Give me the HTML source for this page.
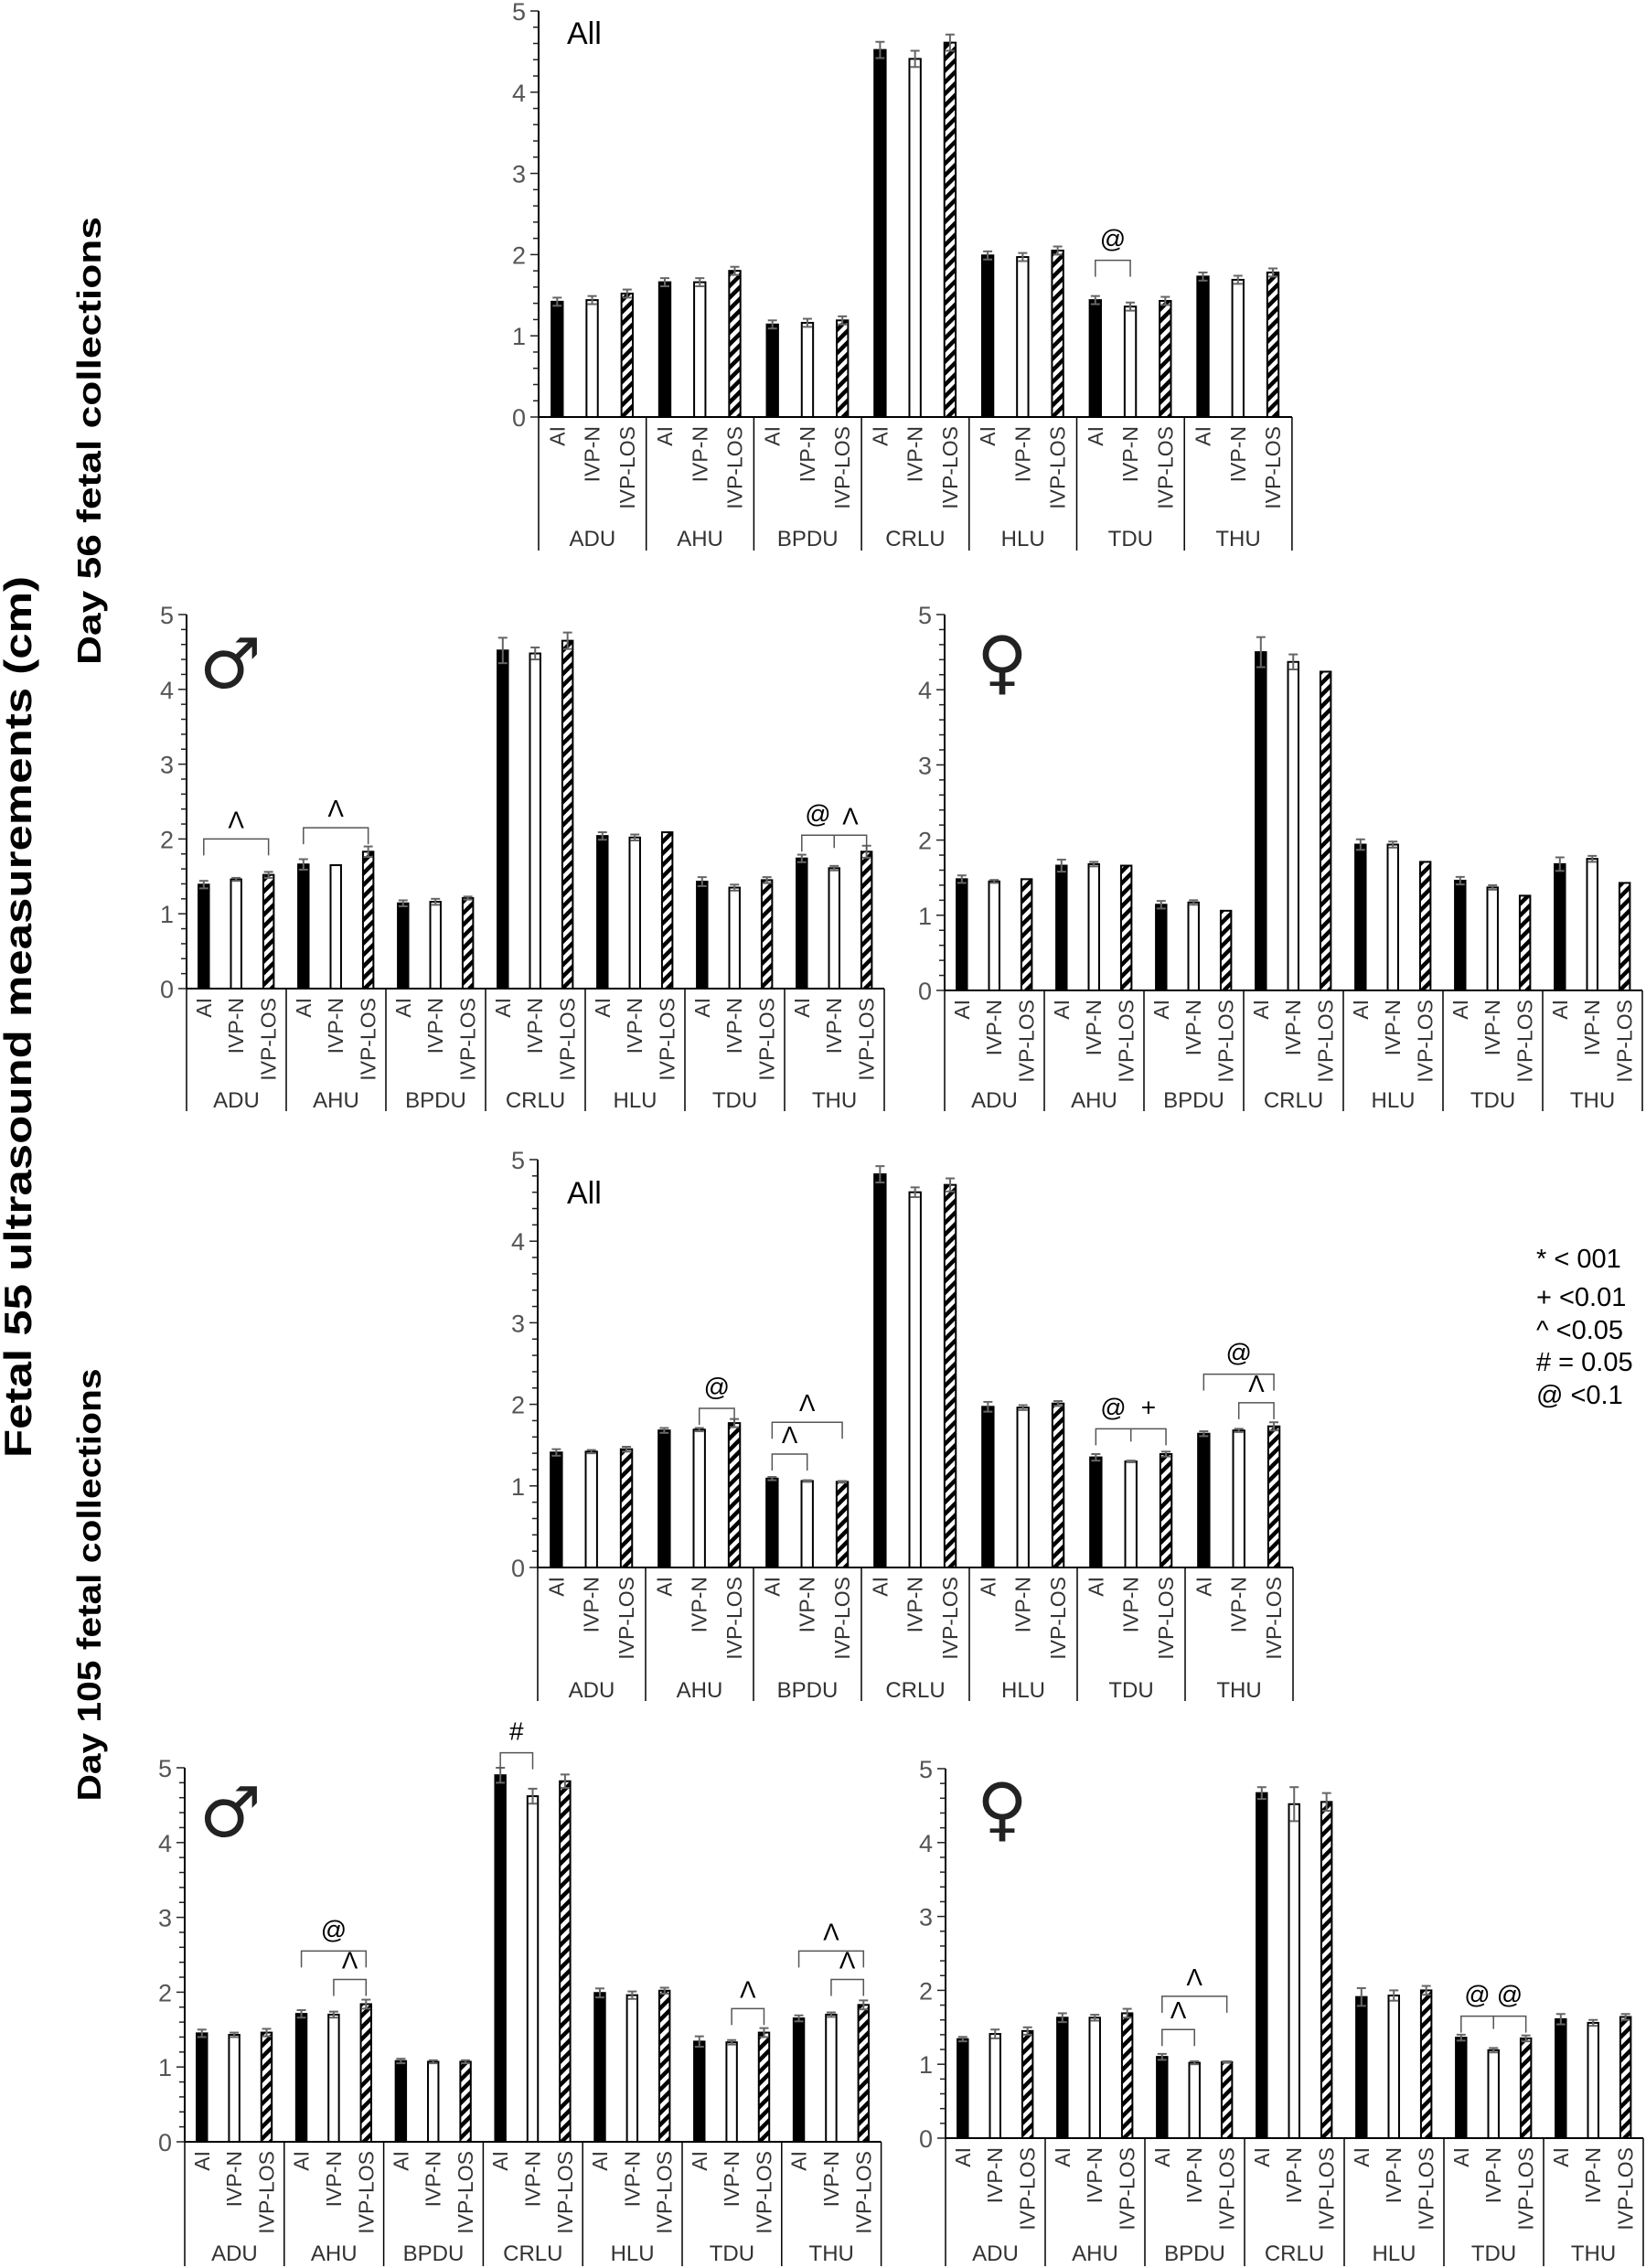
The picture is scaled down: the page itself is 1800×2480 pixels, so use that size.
<!DOCTYPE html>
<html><head><meta charset="utf-8">
<style>
html,body{margin:0;padding:0;background:#fff;}
svg{display:block;}
</style></head>
<body>
<svg id="s" width="1800" height="2480" xmlns="http://www.w3.org/2000/svg" font-family="Liberation Sans, Arial, sans-serif">
<defs>
<pattern id="h" patternUnits="userSpaceOnUse" width="9" height="9" patternTransform="rotate(45)">
<rect width="9" height="9" fill="#fff"/><rect x="0" y="0" width="4.5" height="9" fill="#000"/>
</pattern>
</defs>
<text transform="translate(34,1112) rotate(-90)" text-anchor="middle" font-size="42" font-weight="bold" textLength="964" lengthAdjust="spacingAndGlyphs">Fetal 55 ultrasound measurements (cm)</text>
<text transform="translate(110,482) rotate(-90)" text-anchor="middle" font-size="36" font-weight="bold" textLength="490" lengthAdjust="spacingAndGlyphs">Day 56 fetal collections</text>
<text transform="translate(110,1733) rotate(-90)" text-anchor="middle" font-size="36" font-weight="bold" textLength="473" lengthAdjust="spacingAndGlyphs">Day 105 fetal collections</text>
<g font-size="29" fill="#000">
<text x="1680" y="1386">* &lt; 001</text>
<text x="1680" y="1428">+ &lt;0.01</text>
<text x="1680" y="1464">^ &lt;0.05</text>
<text x="1680" y="1499"># = 0.05</text>
<text x="1680" y="1535">@ &lt;0.1</text>
</g>
<g id="c"></g>
</svg>
<script>
var NS="http://www.w3.org/2000/svg",G=document.getElementById('c');
function el(t,a,txt){var e=document.createElementNS(NS,t);for(var k in a)e.setAttribute(k,a[k]);if(txt!=null)e.textContent=txt;G.appendChild(e);return e;}
var cats=["ADU","AHU","BPDU","CRLU","HLU","TDU","THU"],grp=["AI","IVP-N","IVP-LOS"];
function chart(c){
 var u=(c.y0-c.y5)/5,x0=c.x0,gw=c.gw,y0=c.y0;
 function Y(v){return y0-v*u;}
 el('line',{x1:x0,y1:c.y5,x2:x0,y2:y0,stroke:'#000','stroke-width':2});
 for(var i=0;i<=25;i++){var yy=Y(i*0.2);var L=(i%5==0)?9:6;el('line',{x1:x0-L,y1:yy,x2:x0,y2:yy,stroke:'#222','stroke-width':1.5});}
 for(var i=0;i<=5;i++){el('text',{x:x0-14,y:Y(i)+10,'text-anchor':'end','font-size':27,fill:'#555'},String(i));}
 el('line',{x1:x0,y1:y0,x2:x0+7*gw,y2:y0,stroke:'#000','stroke-width':2});
 for(var g=0;g<=7;g++){el('line',{x1:x0+g*gw,y1:y0,x2:x0+g*gw,y2:c.sb,stroke:'#000','stroke-width':1.5});}
 var fr=[0.12,0.445,0.77],bw=gw*0.105;
 for(var g=0;g<7;g++){
  var gx=x0+g*gw;
  el('text',{x:gx+gw/2,y:c.cy,'text-anchor':'middle','font-size':24,fill:'#333'},cats[g]);
  for(var b=0;b<3;b++){
   var v=c.d[g][b],bx=gx+fr[b]*gw,cx=bx+bw/2;
   el('rect',{x:bx,y:Y(v),width:bw,height:v*u,fill:b==0?'#000':(b==1?'#fff':'url(#h)'),stroke:'#000','stroke-width':2});
   var e=(c.e&&c.e[g]&&c.e[g][b]!=null)?c.e[g][b]:(g==3?0.1:0.05);
   if(e>0){el('line',{x1:cx,y1:Y(v+e),x2:cx,y2:Y(v-e),stroke:'#666','stroke-width':2});
    el('line',{x1:cx-5,y1:Y(v+e),x2:cx+5,y2:Y(v+e),stroke:'#666','stroke-width':2});
    el('line',{x1:cx-5,y1:Y(v-e),x2:cx+5,y2:Y(v-e),stroke:'#666','stroke-width':2});}
   el('text',{transform:'translate('+(cx+8)+','+(y0+10)+') rotate(-90)','text-anchor':'end','font-size':23,fill:'#333'},grp[b]);
  }
 }
 (c.br||[]).forEach(function(r){
  var g=r[0],a=r[1],b2=r[2],v=r[3],yy=Y(v);
  var xa=x0+g*gw+fr[a]*gw+bw/2,xb=x0+g*gw+fr[b2]*gw+bw/2;
  var p='M'+xa+','+(yy+18)+'V'+yy+'H'+xb+'V'+(yy+18);
  if(r[5]!=null){var xm=x0+g*gw+fr[1]*gw+bw/2;p+='M'+xm+','+yy+'V'+(yy+14);}
  el('path',{d:p,fill:'none',stroke:'#555','stroke-width':1.5});
  function lab(x,t){var c2=(t=='^');el('text',{x:x,y:yy-(c2?12:14),'text-anchor':'middle','font-size':c2?26:28},c2?'\u039B':t);}
  if(r[5]!=null){lab((xa+xm)/2,r[4]);lab((xm+xb)/2,r[5]);}
  else lab((xa+xb)/2,r[4]);
 });
 if(c.lab=='All') el('text',{x:c.lx,y:c.ly,'font-size':34},'All');
 else el('text',{x:c.lx,y:c.ly,'text-anchor':'middle','font-size':76,'font-weight':'bold',fill:'#222','font-family':'DejaVu Sans, sans-serif'},c.lab);
}
chart({x0:589,gw:117.7,y0:456,y5:12,sb:602,cy:597,lab:'All',lx:620,ly:48,
 d:[[1.42,1.44,1.52],[1.66,1.66,1.80],[1.14,1.16,1.19],[4.52,4.41,4.61],[1.99,1.97,2.05],[1.44,1.36,1.43],[1.73,1.69,1.78]],
 br:[[5,0,1,1.93,'@']]});
chart({x0:204,gw:109,y0:1081,y5:672,sb:1215,cy:1211,lab:'♂',lx:252,ly:752,
 d:[[1.39,1.46,1.52],[1.66,1.65,1.83],[1.14,1.16,1.21],[4.52,4.48,4.65],[2.04,2.02,2.09],[1.43,1.35,1.45],[1.74,1.61,1.83]],
 e:[[0.05,0.02,0.04],[0.07,0,0.07],[0.04,0.04,0.02],[0.17,0.08,0.11],[0.05,0.04,0],[0.06,0.04,0.04],[0.05,0.03,0.08]],
 br:[[0,0,2,2.0,'^'],[1,0,2,2.15,'^'],[6,0,2,2.05,'@','^']]});
chart({x0:1033,gw:109,y0:1083,y5:672,sb:1215,cy:1211,lab:'♀',lx:1096,ly:750,
 d:[[1.48,1.45,1.48],[1.66,1.68,1.66],[1.14,1.17,1.06],[4.5,4.37,4.24],[1.94,1.94,1.71],[1.46,1.37,1.26],[1.68,1.75,1.43]],
 e:[[0.05,0.02,0],[0.08,0.03,0],[0.05,0.03,0],[0.2,0.1,0],[0.07,0.04,0],[0.05,0.03,0],[0.09,0.04,0]]});
chart({x0:588,gw:118,y0:1714,y5:1268,sb:1860,cy:1856,lab:'All',lx:620,ly:1316,
 d:[[1.41,1.42,1.45],[1.68,1.69,1.77],[1.09,1.06,1.05],[4.82,4.6,4.69],[1.97,1.96,2.01],[1.35,1.30,1.39],[1.64,1.68,1.73]],
 e:[[0.04,0.02,0.03],[0.03,0.02,0.05],[0.02,0.01,0.01],[0.1,0.06,0.08],[0.06,0.03,0.03],[0.04,0.01,0.03],[0.03,0.02,0.05]],
 br:[[1,1,2,1.95,'@'],[2,0,2,1.78,'^'],[2,0,1,1.39,'^'],[5,0,2,1.70,'@','+'],[6,0,2,2.37,'@'],[6,1,2,2.02,'^']]});
chart({x0:202,gw:108.8,y0:2342,y5:1933,sb:2478,cy:2472,lab:'♂',lx:252,ly:2008,
 d:[[1.45,1.43,1.46],[1.71,1.70,1.84],[1.08,1.07,1.07],[4.9,4.62,4.82],[1.99,1.96,2.02],[1.34,1.33,1.46],[1.65,1.70,1.83]],
 e:[[0.05,0.03,0.05],[0.05,0.04,0.06],[0.03,0.02,0.02],[0.1,0.1,0.09],[0.06,0.05,0.04],[0.07,0.03,0.06],[0.04,0.03,0.06]],
 br:[[3,0,1,5.2,'#'],[1,0,2,2.55,'@'],[1,1,2,2.17,'^'],[5,1,2,1.78,'^'],[6,0,2,2.55,'^'],[6,1,2,2.17,'^']]});
chart({x0:1034,gw:109,y0:2338,y5:1934,sb:2478,cy:2472,lab:'♀',lx:1096,ly:2004,
 d:[[1.34,1.41,1.45],[1.63,1.63,1.69],[1.10,1.02,1.03],[4.67,4.52,4.55],[1.91,1.93,2.0],[1.36,1.19,1.35],[1.61,1.56,1.64]],
 e:[[0.03,0.06,0.05],[0.06,0.04,0.06],[0.04,0.02,0.01],[0.08,0.23,0.12],[0.12,0.07,0.06],[0.04,0.03,0.04],[0.07,0.04,0.04]],
 br:[[2,0,2,1.92,'^'],[2,0,1,1.47,'^'],[5,0,2,1.65,'@','@']]});
</script>
</body></html>
